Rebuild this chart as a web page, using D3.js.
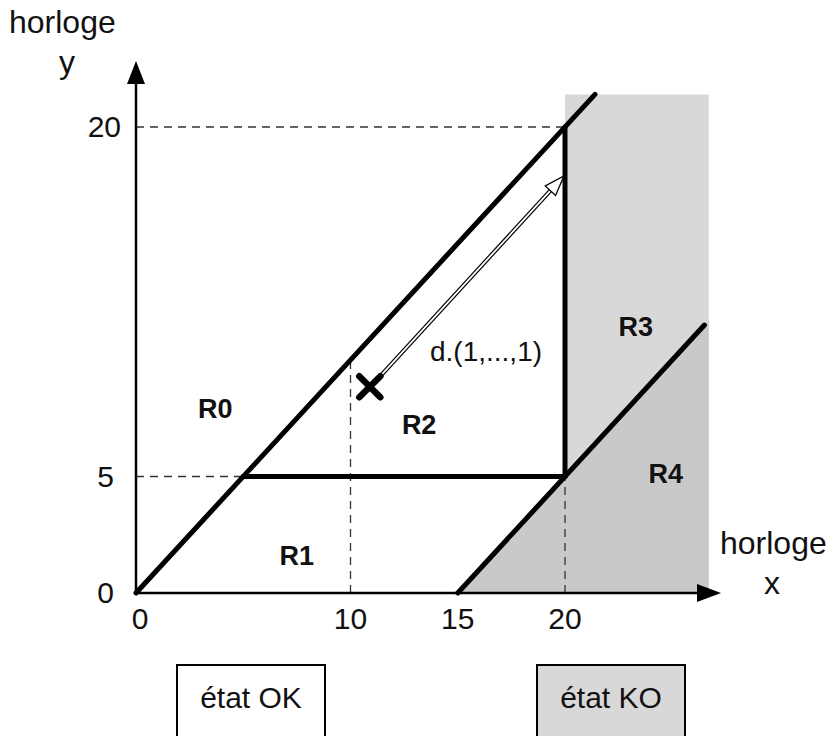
<html>
<head>
	<script src="https://cdn.jsdelivr.net/npm/d3@7"></script>
	<style>
		body { margin: 0; background: #fff; }
		text { font-family: "Liberation Sans", Arial, Helvetica, sans-serif; fill: #111; }
	</style>
</head>
<body>
	<script type="text/javascript">

		// ticks
		var xTicks = [0, 10, 15, 20];
		var yTicks = [0, 5, 20];

		// frontieres (epaisses) entre regions, en unites d'horloge
		var borders = [
			[[0, 0], [21.4, 21.4]],
			[[5, 5], [20, 5]],
			[[20, 5], [20, 20]],
			[[15, 0], [26.5, 11.5]]
		];

		// lignes de rappel pointillees
		var guides = [
			[[0, 20], [20, 20]],
			[[0, 5], [5, 5]],
			[[10, 0], [10, 10]],
			[[20, 0], [20, 5]]
		];

		// zones grises (etat KO)
		var zoneR3 = [[20, 0], [20, 21.4], [26.7, 21.4], [26.7, 0]];
		var zoneR4 = [[15, 0], [26.7, 11.7], [26.7, 0]];

		var regionNames = ["R0", "R1", "R2", "R3", "R4"];
		var regionAt = [[3.7, 7.9], [7.5, 1.6], [13.2, 7.2], [23.3, 11.4], [24.7, 5.1]];

		// point courant et direction d.(1,...,1)
		var point = [10.9, 8.85];
		var arrowEnd = [19.95, 17.9];

		var width = 830, height = 736;

		var svg = d3.select("body").append("svg")
				   .attr("width", width)
				   .attr("height", height);

		var x = d3.scaleLinear().domain([0, 20]).range([136, 565]);
		var y = d3.scaleLinear().domain([0, 20]).range([593, 127]);

		var line = d3.line().x(function(d){ return x(d[0]); }).y(function(d){ return y(d[1]); });

		svg.append("path").attr("d", line(zoneR3) + "Z").attr("fill", "#d8d8d8");
		svg.append("path").attr("d", line(zoneR4) + "Z").attr("fill", "#c9c9c9");

		svg.selectAll(".guide")
		   .data(guides)
		   .enter()
		   .append("path")
		   .attr("class", "guide")
		   .attr("d", line)
		   .attr("stroke", "#333")
		   .attr("stroke-width", 1.3)
		   .attr("stroke-dasharray", "8,6")
		   .attr("fill", "none");

		// axes
		var x0 = x(0), y0 = y(0);
		svg.append("line").attr("x1", x0).attr("y1", y0).attr("x2", 702).attr("y2", y0)
		   .attr("stroke", "#000").attr("stroke-width", 2.5);
		svg.append("path").attr("d", "M697," + (y0 - 9) + "L721," + y0 + "L697," + (y0 + 9) + "Z").attr("fill", "#000");
		svg.append("line").attr("x1", x0).attr("y1", y0).attr("x2", x0).attr("y2", 80)
		   .attr("stroke", "#000").attr("stroke-width", 2.5);
		svg.append("path").attr("d", "M" + (x0 - 9) + ",84L" + x0 + ",61L" + (x0 + 9) + ",84Z").attr("fill", "#000");

		svg.selectAll(".border")
		   .data(borders)
		   .enter()
		   .append("path")
		   .attr("class", "border")
		   .attr("d", line)
		   .attr("stroke", "#000")
		   .attr("stroke-width", 5)
		   .attr("stroke-linecap", "round")
		   .attr("fill", "none");

		// fleche creuse
		var ax1 = x(point[0]) + 8, ay1 = y(point[1]) - 8;
		var ax2 = x(arrowEnd[0]), ay2 = y(arrowEnd[1]);
		var ang = Math.atan2(ay2 - ay1, ax2 - ax1);
		var hl = 20, hw = 7;
		var bx = ax2 - hl * Math.cos(ang), by = ay2 - hl * Math.sin(ang);
		svg.append("line").attr("x1", ax1).attr("y1", ay1).attr("x2", bx).attr("y2", by)
		   .attr("stroke", "#000").attr("stroke-width", 4.2);
		svg.append("line").attr("x1", ax1).attr("y1", ay1).attr("x2", bx + 2 * Math.cos(ang)).attr("y2", by + 2 * Math.sin(ang))
		   .attr("stroke", "#fff").attr("stroke-width", 1.8);
		var px = -Math.sin(ang), py = Math.cos(ang);
		svg.append("path")
		   .attr("d", "M" + ax2 + "," + ay2 + "L" + (bx + hw * px) + "," + (by + hw * py) + "L" + (bx - hw * px) + "," + (by - hw * py) + "Z")
		   .attr("fill", "#fff").attr("stroke", "#000").attr("stroke-width", 1.3);

		// croix
		var cx = x(point[0]), cy = y(point[1]), cs = 10.5;
		svg.append("path")
		   .attr("d", "M" + (cx - cs) + "," + (cy - cs) + "L" + (cx + cs) + "," + (cy + cs) + "M" + (cx + cs) + "," + (cy - cs) + "L" + (cx - cs) + "," + (cy + cs))
		   .attr("stroke", "#000").attr("stroke-width", 6.5).attr("stroke-linecap", "round");

		svg.append("text").attr("x", 430).attr("y", 361).attr("font-size", 28).text("d.(1,...,1)");

		svg.selectAll(".region")
		   .data(regionNames)
		   .enter()
		   .append("text")
		   .attr("class", "region")
		   .attr("x", function(d, i){ return x(regionAt[i][0]); })
		   .attr("y", function(d, i){ return y(regionAt[i][1]) + 9; })
		   .attr("text-anchor", "middle")
		   .attr("font-size", 27)
		   .attr("font-weight", "bold")
		   .text(function(d){ return d; });

		// ticks
		svg.selectAll(".xt")
		   .data(xTicks)
		   .enter()
		   .append("text")
		   .attr("class", "xt")
		   .attr("x", function(d){ return x(d) + (d == 0 ? 4 : 0); })
		   .attr("y", 629)
		   .attr("text-anchor", "middle")
		   .attr("font-size", 30)
		   .text(function(d){ return d; });

		svg.selectAll(".yt")
		   .data(yTicks)
		   .enter()
		   .append("text")
		   .attr("class", "yt")
		   .attr("x", function(d){ return d == 20 ? 121 : 114; })
		   .attr("y", function(d){ return y(d) + 10; })
		   .attr("text-anchor", "end")
		   .attr("font-size", 30)
		   .text(function(d){ return d; });

		svg.append("text").attr("x", 9).attr("y", 33).attr("font-size", 32).text("horloge");
		svg.append("text").attr("x", 67).attr("y", 73).attr("text-anchor", "middle").attr("font-size", 32).text("y");
		svg.append("text").attr("x", 720).attr("y", 554).attr("font-size", 32).text("horloge");
		svg.append("text").attr("x", 772).attr("y", 594).attr("text-anchor", "middle").attr("font-size", 32).text("x");

		// legende
		var states = ["état OK", "état KO"];
		var stateX = [177, 537];
		var stateFill = ["#fff", "#d8d8d8"];
		svg.selectAll(".state")
		   .data(states)
		   .enter()
		   .append("rect")
		   .attr("x", function(d, i){ return stateX[i]; })
		   .attr("y", 665)
		   .attr("width", 148)
		   .attr("height", 80)
		   .attr("fill", function(d, i){ return stateFill[i]; })
		   .attr("stroke", "#000")
		   .attr("stroke-width", 2);
		svg.selectAll(".stateLabel")
		   .data(states)
		   .enter()
		   .append("text")
		   .attr("x", function(d, i){ return stateX[i] + 74; })
		   .attr("y", 708)
		   .attr("text-anchor", "middle")
		   .attr("font-size", 30)
		   .text(function(d){ return d; });

	</script>
</body>
</html>
